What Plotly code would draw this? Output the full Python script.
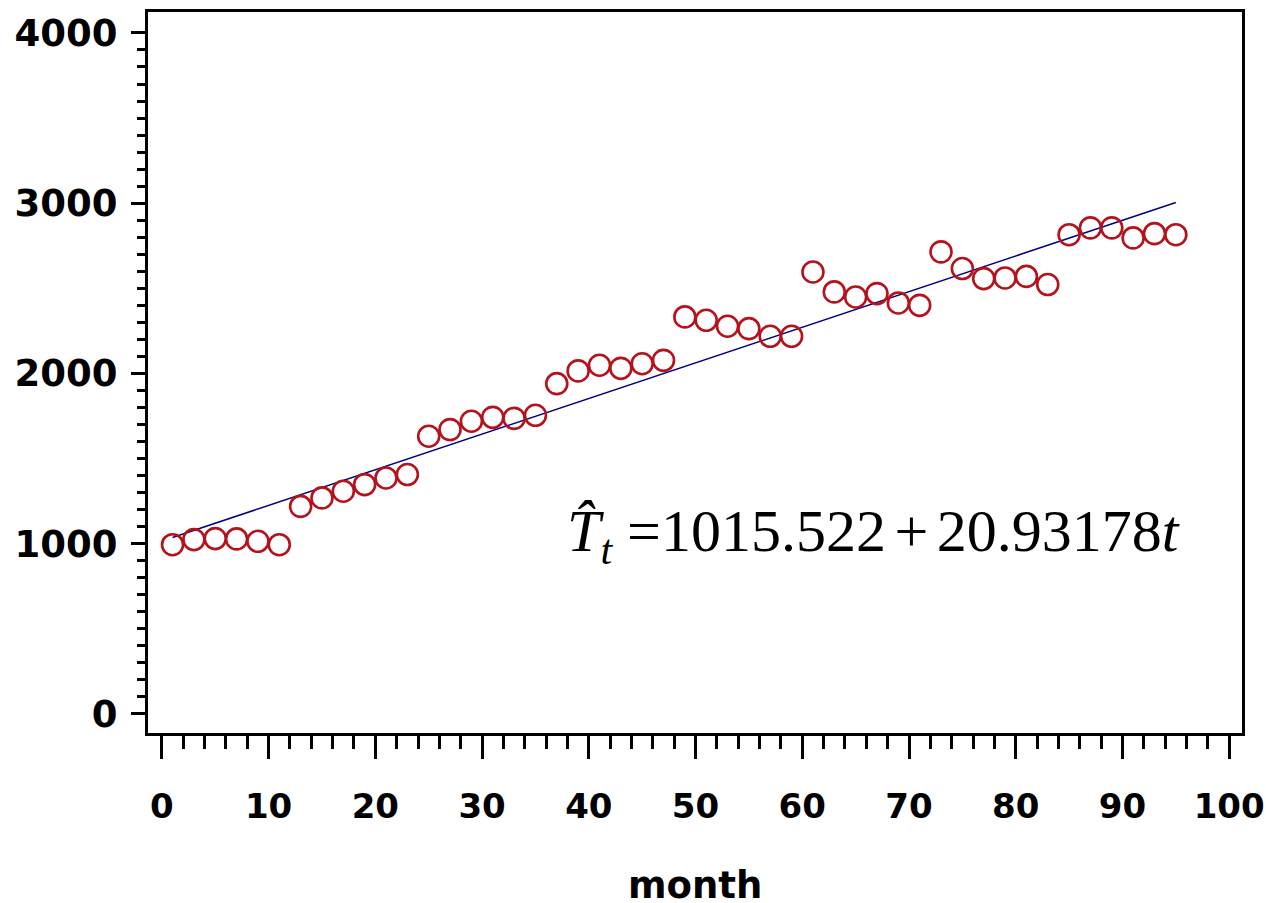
import plotly.graph_objects as go

# ---- data ----
months = [1, 3, 5, 7, 9, 11, 13, 15, 17, 19, 21, 23,
          25, 27, 29, 31, 33, 35, 37, 39, 41, 43, 45, 47,
          49, 51, 53, 55, 57, 59, 61, 63, 65, 67, 69, 71,
          73, 75, 77, 79, 81, 83, 85, 87, 89, 91, 93, 95]
sales = [994, 1024, 1030, 1028, 1014, 994, 1219, 1269, 1308, 1347, 1386, 1406,
         1631, 1670, 1719, 1742, 1736, 1754, 1940, 2015, 2048, 2030, 2057, 2077,
         2332, 2312, 2277, 2263, 2218, 2218, 2596, 2479, 2449, 2469, 2414, 2400,
         2714, 2616, 2557, 2561, 2570, 2522, 2815, 2855, 2855, 2796, 2821, 2815]

# fitted trend line T_t = 1015.522 + 20.93178 t, at its two end points
trend_x = [1, 95]
trend_y = [1036.454, 3004.041]

x_ticks = [0, 10, 20, 30, 40, 50, 60, 70, 80, 90, 100]
y_ticks = [0, 1000, 2000, 3000, 4000]
gap = '<span style="font-size:34px"> </span>'
equation = ("<i>T\u0302</i><sub><i>t</i></sub> =1015.522" + gap + "+" + gap +
            "20.93178<i>t</i>")
x_title = "month"

y_font = dict(family="DejaVu Sans", size=37, color="black", weight="bold")
x_font = dict(family="DejaVu Sans", size=34, color="black", weight="bold")
title_font = dict(family="DejaVu Sans", size=37, color="black", weight="bold")

fig = go.Figure()
fig.add_trace(go.Scatter(
    x=trend_x, y=trend_y, mode="lines",
    line=dict(color="#000080", width=1.5), showlegend=False, hoverinfo="skip"))
fig.add_trace(go.Scatter(
    x=months, y=sales, mode="markers",
    marker=dict(symbol="circle-open", size=21, color="#b5121b",
                line=dict(width=2.6, color="#b5121b")),
    showlegend=False))

fig.add_annotation(
    x=37.8, y=1048, xref="x", yref="y", xanchor="left", yanchor="middle",
    text=equation, showarrow=False,
    font=dict(family="Liberation Serif", size=60, color="black"))

# axis title placed as paper-anchored text below the tick labels
fig.add_annotation(
    x=0.5, y=-0.212, xref="paper", yref="paper", xanchor="center",
    yanchor="middle", text=x_title, showarrow=False, font=title_font)

minor_y = [v for v in range(100, 4000, 100) if v % 1000 != 0]

fig.update_xaxes(
    range=[-1.3, 101.2], tickmode="array", tickvals=x_ticks,
    ticktext=[str(v) for v in x_ticks],
    ticks="outside", ticklen=23, tickwidth=2.5, tickcolor="black",
    minor=dict(ticks="outside", ticklen=13, tickwidth=2.5, tickcolor="black",
               dtick=2, tick0=0, showgrid=False),
    showline=True, linewidth=3, linecolor="black", mirror=True,
    showgrid=False, zeroline=False, tickfont=x_font, ticklabelstandoff=18,
    ticklabeloverflow="allow", automargin=False)

fig.update_yaxes(
    range=[-112, 4123], tickmode="array", tickvals=y_ticks,
    ticktext=[str(v) for v in y_ticks],
    ticks="outside", ticklen=14, tickwidth=2.5, tickcolor="black",
    minor=dict(ticks="outside", ticklen=8, tickwidth=2.5, tickcolor="black",
               tickmode="array", tickvals=minor_y, showgrid=False),
    showline=True, linewidth=3, linecolor="black", mirror=True,
    showgrid=False, zeroline=False, tickfont=y_font, ticklabelstandoff=6,
    ticklabeloverflow="allow", automargin=False)

fig.update_layout(
    width=1266, height=903,
    margin=dict(l=148, r=24, t=12, b=170, autoexpand=False),
    paper_bgcolor="white", plot_bgcolor="white",
    showlegend=False)

fig.write_html("out.html",
               config={"displayModeBar": False},
               post_script="document.body.style.margin='0';"
                           "document.body.style.overflow='hidden';")
